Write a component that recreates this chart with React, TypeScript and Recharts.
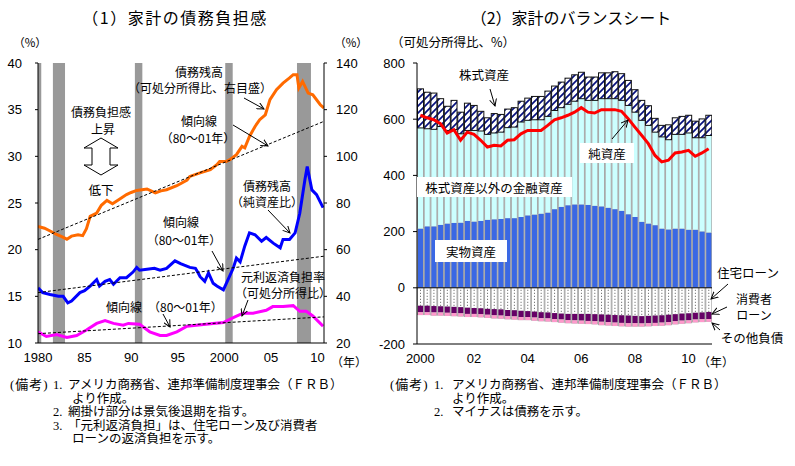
import React from "react";
import { ComposedChart, Line, Bar, XAxis, YAxis, ReferenceArea, ReferenceLine } from "recharts";

const JP = '"Noto Sans CJK JP", "Noto Sans", sans-serif';
const NUM = '"Liberation Sans Narrow", "Liberation Sans", Arial, sans-serif';
const NOTE = '"Liberation Serif", "Noto Sans CJK JP", serif';

// ---- (1) 家計の債務負担感 ----
const yearTicks = [1980, 1985, 1990, 1995, 2000, 2005, 2010];
const recessionStart = [1980.0, 1981.6, 1990.4, 2000.1, 2007.8];
const recessionEnd = [1980.35, 1982.9, 1991.2, 2000.9, 2009.3];

// 債務残高（可処分所得比、右目盛）
const debtIncomeYears = [1980.0, 1980.7, 1981.3, 1982.0, 1982.6, 1983.1, 1983.6, 1984.3, 1984.8, 1985.2, 1985.6, 1986.3, 1986.8, 1987.4, 1988.0, 1988.7, 1989.5, 1990.0, 1990.6, 1991.7, 1992.6, 1993.2, 1993.8, 1994.9, 1996.0, 1996.3, 1997.4, 1998.5, 1999.2, 1999.5, 2000.2, 2000.6, 2001.3, 2001.9, 2002.2, 2002.7, 2003.3, 2003.8, 2004.4, 2004.9, 2005.6, 2006.3, 2007.0, 2007.4, 2007.8, 2008.0, 2008.4, 2009.0, 2009.5, 2010.3, 2010.7];
const debtIncome = [70.0, 69.2, 68.0, 66.5, 65.5, 64.5, 65.8, 66.4, 66.0, 69.0, 74.3, 75.7, 79.0, 81.1, 79.7, 81.5, 83.6, 84.5, 85.4, 86.0, 84.3, 85.2, 85.7, 87.4, 89.8, 91.4, 92.9, 94.3, 96.4, 97.8, 97.8, 98.6, 100.7, 104.3, 103.6, 108.5, 112.8, 115.7, 117.8, 124.3, 128.6, 131.4, 133.6, 135.0, 135.0, 129.3, 132.1, 127.1, 126.4, 122.1, 120.7];

// 債務残高（純資産比）
const debtWorthYears = [1980.0, 1980.5, 1981.3, 1982.2, 1982.7, 1983.2, 1983.6, 1984.5, 1985.0, 1985.6, 1986.3, 1986.6, 1987.2, 1987.7, 1988.1, 1988.8, 1989.5, 1990.2, 1990.6, 1990.9, 1991.7, 1992.5, 1993.1, 1993.8, 1994.7, 1995.3, 1996.3, 1996.9, 1997.2, 1997.4, 1997.9, 1998.3, 1998.8, 1999.2, 1999.9, 2000.4, 2000.95, 2001.3, 2001.7, 2002.2, 2002.7, 2003.3, 2004.0, 2004.5, 2005.25, 2006.0, 2006.3, 2007.0, 2007.6, 2008.1, 2008.65, 2008.9, 2009.4, 2009.9, 2010.6];
const debtWorth = [15.9, 15.4, 15.2, 15.0, 15.0, 14.3, 14.5, 15.4, 15.6, 16.1, 16.8, 16.1, 16.6, 16.8, 16.3, 17.0, 17.0, 17.6, 18.1, 17.8, 17.9, 18.0, 17.8, 18.0, 18.8, 18.5, 18.1, 18.0, 17.5, 17.1, 16.6, 17.5, 16.4, 16.1, 15.7, 16.8, 18.0, 19.1, 18.7, 20.4, 21.8, 21.6, 20.9, 21.3, 20.7, 20.2, 21.1, 21.1, 21.8, 23.9, 27.5, 28.9, 26.4, 25.9, 24.5];

// 元利返済負担率（可処分所得比）
const serviceYears = [1980.0, 1980.9, 1982.0, 1983.1, 1984.15, 1985.2, 1986.3, 1987.2, 1988.1, 1989.15, 1989.7, 1990.9, 1992.0, 1993.1, 1993.8, 1994.9, 1996.0, 1997.0, 1998.8, 1999.9, 2000.9, 2002.0, 2003.1, 2004.5, 2005.2, 2006.3, 2007.4, 2008.1, 2008.8, 2009.5, 2010.6];
const serviceRatio = [11.2, 10.7, 10.9, 10.6, 10.8, 11.4, 12.1, 12.4, 12.1, 11.9, 12.1, 12.0, 11.2, 10.8, 10.8, 11.2, 11.8, 11.9, 12.1, 12.2, 12.7, 13.2, 13.2, 13.5, 13.9, 13.9, 14.0, 13.4, 13.4, 12.9, 11.8];

// 傾向線（80～01年）
const trendYears = [1980, 2010.7];
const debtIncomeTrend = [64.4, 115.0];
const debtWorthTrend = [15.4, 19.3];
const serviceTrend = [11.0, 12.8];

// ---- (2) 家計のバランスシート (2000Q1-2010Q4) ----
const yearLabels: Record<string, string> = { "2000Q1": "2000", "2002Q1": "02", "2004Q1": "04", "2006Q1": "06", "2008Q1": "08", "2010Q1": "10" };
const realAssets = [211, 219, 219, 224, 229, 231, 232, 238, 236, 238, 242, 244, 245, 248, 248, 252, 258, 261, 264, 268, 280, 288, 294, 297, 297, 295, 292, 290, 285, 280, 274, 262, 252, 235, 229, 223, 211, 208, 211, 211, 207, 207, 201, 197];
const otherFinancial = [358, 347, 345, 350, 331, 332, 316, 322, 324, 320, 304, 307, 309, 322, 324, 338, 338, 337, 334, 342, 351, 353, 359, 367, 376, 372, 375, 383, 388, 393, 393, 387, 373, 361, 349, 331, 326, 319, 335, 335, 344, 327, 333, 345];
const equityAssets = [139, 130, 129, 99, 86, 104, 77, 97, 89, 70, 59, 69, 63, 66, 69, 74, 79, 83, 83, 90, 87, 91, 93, 94, 94, 83, 83, 92, 92, 96, 95, 89, 80, 71, 70, 49, 41, 53, 59, 64, 63, 59, 67, 72];
const mortgages = [-64, -64, -65, -66, -67, -68, -69, -71, -72, -73, -75, -76, -77, -79, -80, -82, -83, -85, -87, -88, -90, -92, -93, -93, -93, -93, -94, -95, -96, -97, -98, -99, -100, -101, -100, -99, -98, -96, -94, -92, -91, -89, -88, -86];
const consumerLoans = [-23, -23, -23, -22, -22, -22, -22, -22, -21, -21, -21, -22, -22, -22, -22, -22, -21, -21, -21, -21, -21, -21, -22, -23, -24, -25, -25, -26, -26, -27, -27, -27, -26, -26, -26, -26, -26, -26, -25, -25, -25, -24, -24, -25];
const otherLiabilities = [-10, -10, -11, -11, -11, -11, -11, -11, -11, -11, -11, -11, -11, -11, -11, -11, -11, -11, -11, -11, -11, -11, -11, -11, -11, -11, -11, -12, -12, -12, -12, -12, -12, -11, -11, -11, -11, -11, -11, -11, -10, -10, -10, -10];
const netWorth = [614, 605, 598, 584, 551, 563, 525, 554, 546, 525, 501, 507, 505, 525, 527, 548, 560, 560, 560, 578, 598, 605, 614, 625, 641, 625, 622, 634, 634, 634, 628, 602, 572, 543, 513, 471, 448, 454, 480, 483, 489, 468, 480, 495];

const zip = (xs: number[], vs: number[]) => xs.map((x, i) => ({ x, v: vs[i] }));
const quarters = realAssets.map((_, i) => `${2000 + Math.floor(i / 4)}Q${(i % 4) + 1}`);
const balanceData = quarters.map((q, i) => ({
  q,
  real: realAssets[i],
  fin: otherFinancial[i],
  equity: equityAssets[i],
  mortgage: mortgages[i],
  consumer: consumerLoans[i],
  other: otherLiabilities[i],
  net: netWorth[i],
}));

const tickStyle = { fill: "#000", fontSize: 13, fontFamily: NUM };

function DebtChart() {
  return (
    <ComposedChart width={370} height={375} margin={{ top: 63, right: 0, bottom: 0, left: 0 }}>
      <XAxis dataKey="x" type="number" domain={[1980, 2010.7]} ticks={yearTicks} interval={0}
        tickFormatter={(y: number) => (y === 1980 || y === 2000 ? String(y) : String(y).slice(2))}
        tick={tickStyle} tickLine={false} tickSize={0} tickMargin={10} height={32} stroke="#000" allowDataOverflow />
      <YAxis yAxisId="left" domain={[10, 40]} ticks={[10, 15, 20, 25, 30, 35, 40]} width={38}
        tick={tickStyle} tickSize={3} tickMargin={13} stroke="#000" />
      <YAxis yAxisId="right" orientation="right" domain={[20, 140]} ticks={[20, 40, 60, 80, 100, 120, 140]} width={46}
        tick={tickStyle} tickSize={3} tickMargin={9} stroke="#000" />
      {recessionStart.map((s, i) => (
        <ReferenceArea key={i} yAxisId="left" x1={s} x2={recessionEnd[i]} fill="#999999" fillOpacity={1} stroke="none" />
      ))}
      <Line yAxisId="right" data={zip(debtIncomeYears, debtIncome)} dataKey="v" type="linear" stroke="#ff6a00" strokeWidth={3} dot={false} isAnimationActive={false} />
      <Line yAxisId="left" data={zip(debtWorthYears, debtWorth)} dataKey="v" type="linear" stroke="#0000ff" strokeWidth={3} dot={false} isAnimationActive={false} />
      <Line yAxisId="left" data={zip(serviceYears, serviceRatio)} dataKey="v" type="linear" stroke="#ff00ff" strokeWidth={3} dot={false} isAnimationActive={false} />
      <Line yAxisId="right" data={zip(trendYears, debtIncomeTrend)} dataKey="v" stroke="#000" strokeWidth={1} strokeDasharray="3 2" dot={false} isAnimationActive={false} />
      <Line yAxisId="left" data={zip(trendYears, debtWorthTrend)} dataKey="v" stroke="#000" strokeWidth={1} strokeDasharray="3 2" dot={false} isAnimationActive={false} />
      <Line yAxisId="left" data={zip(trendYears, serviceTrend)} dataKey="v" stroke="#000" strokeWidth={1} strokeDasharray="3 2" dot={false} isAnimationActive={false} />
    </ComposedChart>
  );
}

const box = (p: any) => {
  const top = Math.min(p.y, p.y + p.height);
  return { x: p.x, top, w: p.width, h: Math.abs(p.height) };
};

const solidBar = (fill: string) => (p: any) => {
  const { x, top, w, h } = box(p);
  return (
    <g>
      <rect x={x} y={top} width={w} height={h} fill="#a8a8a8" />
      <rect x={x + 1} y={top} width={Math.max(w - 2, 0)} height={h} fill={fill} />
    </g>
  );
};

const mortgageBar = (p: any) => {
  const { x, top, w, h } = box(p);
  return (
    <g>
      <rect x={x} y={top} width={w} height={h} fill="#a8a8a8" />
      <rect x={x + 1} y={top} width={Math.max(w - 2, 0)} height={h} fill="#fff" />
      <line x1={x + w / 2} x2={x + w / 2} y1={top + 2} y2={top + h} stroke="#555" strokeDasharray="1 2" />
    </g>
  );
};

const equityBar = (p: any) => {
  const { x, top, w, h } = box(p);
  return <rect x={x + 0.5} y={top} width={Math.max(w - 1, 0)} height={h} fill="url(#hatch)" stroke="#111" strokeWidth={1} />;
};

function BalanceChart() {
  return (
    <ComposedChart width={342} height={375} data={balanceData} stackOffset="sign" barCategoryGap={0} barGap={0}
      margin={{ top: 63, right: 0, bottom: 0, left: 0 }}>
      <XAxis dataKey="q" interval={0} tickFormatter={(q: string) => yearLabels[q] || ""}
        tick={tickStyle} tickLine={false} tickSize={0} tickMargin={10} height={31} stroke="#000" />
      <YAxis domain={[-200, 800]} ticks={[-200, 0, 200, 400, 600, 800]} width={47}
        tick={tickStyle} tickSize={4} tickMargin={8} stroke="#000" />
      <Bar dataKey="real" stackId="s" shape={solidBar("#3a68e4")} isAnimationActive={false} />
      <Bar dataKey="fin" stackId="s" shape={solidBar("#ccffff")} isAnimationActive={false} />
      <Bar dataKey="equity" stackId="s" shape={equityBar} isAnimationActive={false} />
      <Bar dataKey="mortgage" stackId="s" shape={mortgageBar} isAnimationActive={false} />
      <Bar dataKey="consumer" stackId="s" shape={solidBar("#660066")} isAnimationActive={false} />
      <Bar dataKey="other" stackId="s" shape={solidBar("#ff99cc")} isAnimationActive={false} />
      <ReferenceLine y={0} stroke="#000" strokeWidth={1} />
      <Line dataKey="net" type="linear" stroke="#ff0000" strokeWidth={3} dot={false} isAnimationActive={false} />
    </ComposedChart>
  );
}

function T({ x, y, children, anchor = "middle", size = 12.5, family = JP, spacing = 0 }: any) {
  return (
    <text x={x} y={y} textAnchor={anchor} fontSize={size} fontFamily={family} letterSpacing={spacing} fill="#000">
      {children}
    </text>
  );
}

function Arrow({ x1, y1, x2, y2 }: any) {
  return <line x1={x1} y1={y1} x2={x2} y2={y2} stroke="#000" strokeWidth={1} markerEnd="url(#ah)" />;
}

function LabelBox({ x, y, w, h }: any) {
  return <rect x={x} y={y} width={w} height={h} fill="#fff" />;
}

function Note({ x, y, children }: any) {
  return <T x={x} y={y} anchor="start" size={12.5} family={NOTE}>{children}</T>;
}

function Overlay() {
  return (
    <svg width={795} height={466} style={{ position: "absolute", left: 0, top: 0, pointerEvents: "none" }}>
      <defs>
        <marker id="ah" markerWidth="8" markerHeight="8" refX="7" refY="4" orient="auto" markerUnits="userSpaceOnUse">
          <path d="M0,0.5 L7,4 L0,7.5" fill="none" stroke="#000" strokeWidth="1" />
        </marker>
        <pattern id="hatch" patternUnits="userSpaceOnUse" width="7" height="7">
          <rect width="7" height="7" fill="#fff" />
          <path d="M-1,1 l2,-2 M0,7 l7,-7 M6,8 l2,-2" stroke="#06107e" strokeWidth="1.7" />
        </pattern>
      </defs>

      {/* titles */}
      <T x={175} y={24} size={16} spacing={1.5}>（1）家計の債務負担感</T>
      <T x={571} y={24} size={16}>（2）家計のバランスシート</T>
      <T x={30} y={47} size={11.5}>（%）</T>
      <T x={351} y={47} size={11.5}>（%）</T>
      <T x={453} y={47} size={12.5}>（可処分所得比、%）</T>
      <T x={349} y={367} size={12}>（年）</T>
      <T x={716} y={367} size={12}>（年）</T>

      {/* left annotations */}
      <T x={199} y={77} size={12}>債務残高</T>
      <T x={200} y={93} size={12}>（可処分所得比、右目盛）</T>
      <Arrow x1={244} y1={98} x2={264} y2={109} />
      <T x={199} y={126} size={12}>傾向線</T>
      <T x={198} y={143} size={12}>（80～01年）</T>
      <Arrow x1={233} y1={125} x2={268} y2={146} />
      <T x={101} y={117} size={12}>債務負担感</T>
      <T x={103} y={134} size={12}>上昇</T>
      <polygon points="101,138 118,148 110,148 110,165 118,165 101,175 84,165 92,165 92,148 84,148" fill="#fff" stroke="#000" strokeWidth={1} />
      <T x={101} y={195}>低下</T>
      <T x={267} y={191} size={12}>債務残高</T>
      <T x={267} y={207} size={12}>（純資産比）</T>
      <Arrow x1={268} y1={210} x2={290} y2={233} />
      <T x={181} y={227} size={12}>傾向線</T>
      <T x={184} y={245} size={12}>（80～01年）</T>
      <Arrow x1={212} y1={251} x2={223} y2={271} />
      <T x={283} y={282} size={12}>元利返済負担率</T>
      <T x={283} y={298} size={12}>（可処分所得比）</T>
      <Arrow x1={248} y1={300} x2={242} y2={316} />
      <T x={106} y={312} anchor="start" size={12}>傾向線　（80～01年）</T>
      <Arrow x1={163} y1={314} x2={170} y2={327} />

      {/* right annotations */}
      <T x={484} y={80}>株式資産</T>
      <Arrow x1={490} y1={89} x2={495} y2={106} />
      <LabelBox x={580} y={143} w={54} h={20} />
      <T x={607} y={159}>純資産</T>
      <Arrow x1={612} y1={139} x2={628} y2={120} />
      <LabelBox x={417} y={177} w={155} h={20} />
      <T x={494} y={193}>株式資産以外の金融資産</T>
      <LabelBox x={435} y={240} w={72} h={22} />
      <T x={471} y={257}>実物資産</T>
      <T x={748} y={278}>住宅ローン</T>
      <Arrow x1={728} y1={284} x2={711} y2={299} />
      <T x={754} y={304} size={12}>消費者</T>
      <T x={754} y={320} size={12}>ローン</T>
      <Arrow x1={727} y1={307} x2={712} y2={314} />
      <T x={752} y={343}>その他負債</T>
      <Arrow x1={720} y1={330} x2={712} y2={323} />

      {/* notes */}
      <T x={10} y={389} anchor="start" size={13} family={NOTE} spacing={1}>(備考)</T>
      <Note x={53} y={389}>1.</Note>
      <Note x={68} y={389}>アメリカ商務省、連邦準備制度理事会（ＦＲＢ）</Note>
      <Note x={72} y={402.5}>より作成。</Note>
      <Note x={53} y={416}>2.</Note>
      <Note x={68} y={416}>網掛け部分は景気後退期を指す。</Note>
      <Note x={53} y={429.5}>3.</Note>
      <Note x={68} y={429.5}>「元利返済負担」は、住宅ローン及び消費者</Note>
      <Note x={72} y={443}>ローンの返済負担を示す。</Note>

      <T x={390} y={389} anchor="start" size={13} family={NOTE} spacing={1}>(備考)</T>
      <Note x={434} y={389}>1.</Note>
      <Note x={452} y={389}>アメリカ商務省、連邦準備制度理事会（ＦＲＢ）</Note>
      <Note x={452} y={402.5}>より作成。</Note>
      <Note x={434} y={416}>2.</Note>
      <Note x={452} y={416}>マイナスは債務を示す。</Note>
    </svg>
  );
}

export default function App() {
  return (
    <div style={{ position: "absolute", left: 0, top: 0, width: 795, height: 466, background: "#fff", overflow: "hidden" }}>
      <div style={{ position: "absolute", left: 0, top: 0 }}>
        <DebtChart />
      </div>
      <div style={{ position: "absolute", left: 370, top: 0 }}>
        <BalanceChart />
      </div>
      <Overlay />
    </div>
  );
}
